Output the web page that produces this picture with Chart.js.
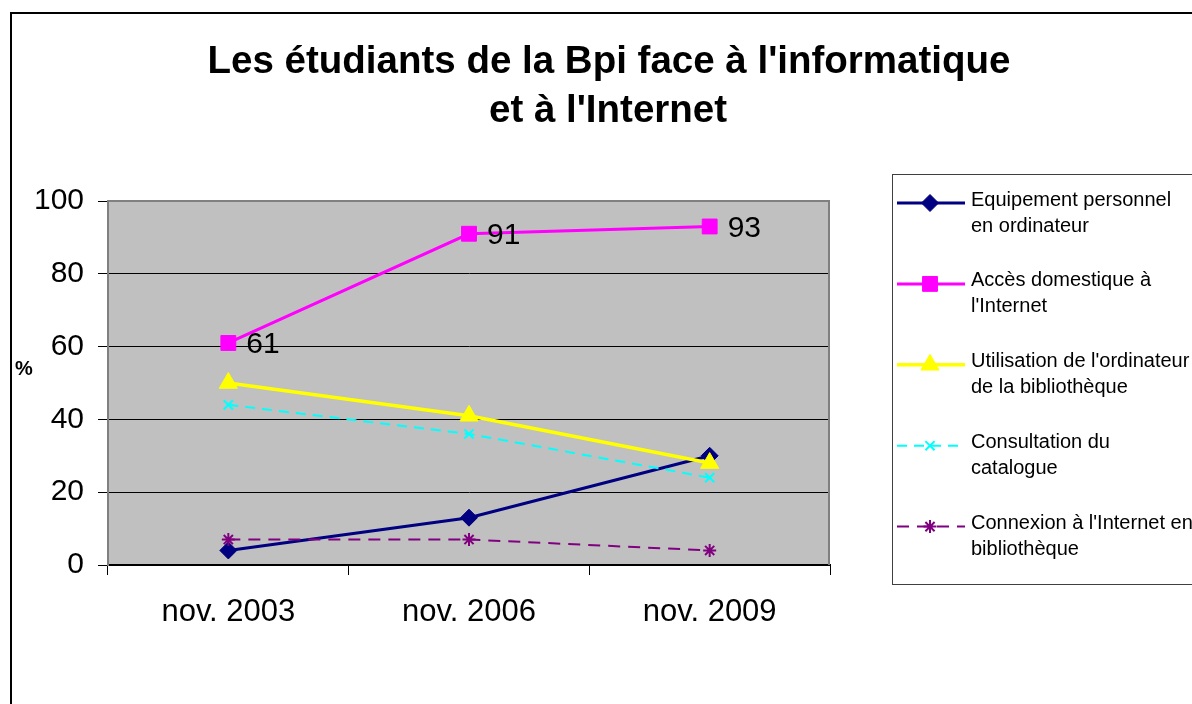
<!DOCTYPE html>
<html lang="fr">
<head>
<meta charset="utf-8">
<title>Les étudiants de la Bpi face à l'informatique et à l'Internet</title>
<script src="https://cdn.jsdelivr.net/npm/chart.js"></script>
<style>
  html, body { margin: 0; padding: 0; background: #fff; }
  #cadre { width: 1192px; height: 704px; }
</style>
</head>
<body>
<div id="cadre"><canvas id="graphique" width="1192" height="704"></canvas></div>
<script>
// données de l'enquête (en %)
const annees = ['nov. 2003', 'nov. 2006', 'nov. 2009'];
const equipement = [4, 13, 30];
const accesDomicile = [61, 91, 93];
const utilisationBib = [50, 41, 28];
const consultationCatalogue = [44, 36, 24];
const connexionBib = [7, 7, 4];

const titre = ["Les étudiants de la Bpi face à l'informatique", "et à l'Internet"];
const libelles = [
    ['Equipement personnel', 'en ordinateur'],
    ['Accès domestique à', "l'Internet"],
    ["Utilisation de l'ordinateur", 'de la bibliothèque'],
    ['Consultation du', 'catalogue'],
    ["Connexion à l'Internet en", 'bibliothèque']
];

const POLICE = "'Liberation Sans', Arial, sans-serif";

function serie(i, data, couleur, style, rayon, epaisseur, tirets) {
    return {
        label: libelles[i].join(' '),
        data: data,
        borderColor: couleur,
        backgroundColor: couleur,
        borderWidth: epaisseur,
        borderDash: tirets || [],
        pointStyle: style,
        pointRadius: rayon,
        pointHoverRadius: rayon,
        pointBorderWidth: (style === 'crossRot' || style === 'star') ? 2 : 1,
        tension: 0,
        order: 10 - i
    };
}

// fond gris de la zone de tracé + bordure grise
const fondGris = {
    id: 'fondGris',
    beforeDraw(chart) {
        const { ctx, chartArea: a } = chart;
        ctx.save();
        ctx.fillStyle = '#C0C0C0';
        ctx.fillRect(a.left, a.top, a.right - a.left, a.bottom - a.top);
        ctx.restore();
    },
    beforeDatasetsDraw(chart) {
        const { ctx, chartArea: a } = chart;
        ctx.save();
        ctx.strokeStyle = '#808080';
        ctx.lineWidth = 2;
        ctx.beginPath();
        ctx.moveTo(a.left, a.top);
        ctx.lineTo(a.right - 1, a.top);
        ctx.lineTo(a.right - 1, a.bottom);
        ctx.stroke();
        ctx.restore();
    }
};

// titre, cadre, légende, étiquettes de valeurs
const habillage = {
    id: 'habillage',
    afterDatasetsDraw(chart) {
        const ctx = chart.ctx;
        const meta = chart.getDatasetMeta(1);
        ctx.save();
        ctx.fillStyle = '#000';
        ctx.font = '30px ' + POLICE;
        ctx.textAlign = 'left';
        ctx.textBaseline = 'middle';
        meta.data.forEach((pt, j) => {
            ctx.fillText(String(accesDomicile[j]), pt.x + 18, pt.y + 2);
        });
        ctx.restore();
    },
    afterDraw(chart) {
        const ctx = chart.ctx;
        ctx.save();

        // cadre extérieur
        ctx.strokeStyle = '#000';
        ctx.lineWidth = 2;
        ctx.strokeRect(11, 13, 2000, 2000);

        // titre
        ctx.fillStyle = '#000';
        ctx.font = 'bold 38.5px ' + POLICE;
        ctx.textAlign = 'center';
        ctx.textBaseline = 'middle';
        ctx.fillText(titre[0], 609, 62);
        ctx.fillText(titre[1], 608, 111);

        // unité de l'axe
        ctx.font = 'bold 20px ' + POLICE;
        ctx.fillText('%', 24, 369);

        // légende
        ctx.fillStyle = '#fff';
        ctx.fillRect(892, 174, 400, 410);
        ctx.strokeStyle = '#404040';
        ctx.lineWidth = 1;
        ctx.strokeRect(892.5, 174.5, 400, 410);

        chart.data.datasets.forEach((ds, i) => {
            const y = 203 + i * 80.9;
            ctx.save();
            ctx.strokeStyle = ds.borderColor;
            ctx.lineWidth = ds.borderWidth;
            ctx.setLineDash(ds.borderDash);
            ctx.beginPath();
            ctx.moveTo(897, y);
            ctx.lineTo(965, y);
            ctx.stroke();
            ctx.setLineDash([]);
            ctx.fillStyle = ds.backgroundColor;
            ctx.lineWidth = ds.pointBorderWidth;
            Chart.helpers.drawPoint(ctx, {
                pointStyle: ds.pointStyle,
                radius: ds.pointRadius,
                borderWidth: ds.pointBorderWidth,
                rotation: 0
            }, 930, y);
            ctx.restore();

            ctx.fillStyle = '#000';
            ctx.font = '20px ' + POLICE;
            ctx.textAlign = 'left';
            ctx.textBaseline = 'middle';
            ctx.fillText(libelles[i][0], 971, y - 3);
            ctx.fillText(libelles[i][1], 971, y + 23);
        });

        ctx.restore();
    }
};

new Chart(document.getElementById('graphique'), {
    type: 'line',
    data: {
        labels: annees,
        datasets: [
            serie(0, equipement, '#000080', 'rectRot', 8.5, 3),
            serie(1, accesDomicile, '#FF00FF', 'rect', 10.5, 3),
            serie(2, utilisationBib, '#FFFF00', 'triangle', 10.5, 3.5),
            serie(3, consultationCatalogue, '#00FFFF', 'crossRot', 6.5, 2, [10, 7]),
            serie(4, connexionBib, '#800080', 'star', 6.5, 2, [12, 8])
        ]
    },
    options: {
        responsive: false,
        devicePixelRatio: 1,
        animation: false,
        events: [],
        layout: { padding: { top: 201, left: 10, right: 362, bottom: 0 } },
        plugins: {
            legend: { display: false },
            tooltip: { enabled: false },
            title: { display: false }
        },
        scales: {
            x: {
                offset: true,
                grid: { offset: true, drawOnChartArea: false, drawTicks: true, tickLength: 10, color: '#000' },
                border: { color: '#000', width: 2 },
                ticks: { color: '#000', font: { family: POLICE, size: 31 }, padding: 19, maxRotation: 0 },
                afterFit(scale) { scale.height = 139; }
            },
            y: {
                min: 0,
                max: 100,
                grid: {
                    color: c => c.tick.value === 100 ? '#808080' : '#000',
                    tickColor: '#000',
                    tickLength: 10
                },
                border: { color: '#808080', width: 2 },
                ticks: { stepSize: 20, color: '#000', font: { family: POLICE, size: 30 }, padding: 14 },
                afterFit(scale) { scale.width = 98; }
            }
        }
    },
    plugins: [fondGris, habillage]
});
</script>
</body>
</html>
